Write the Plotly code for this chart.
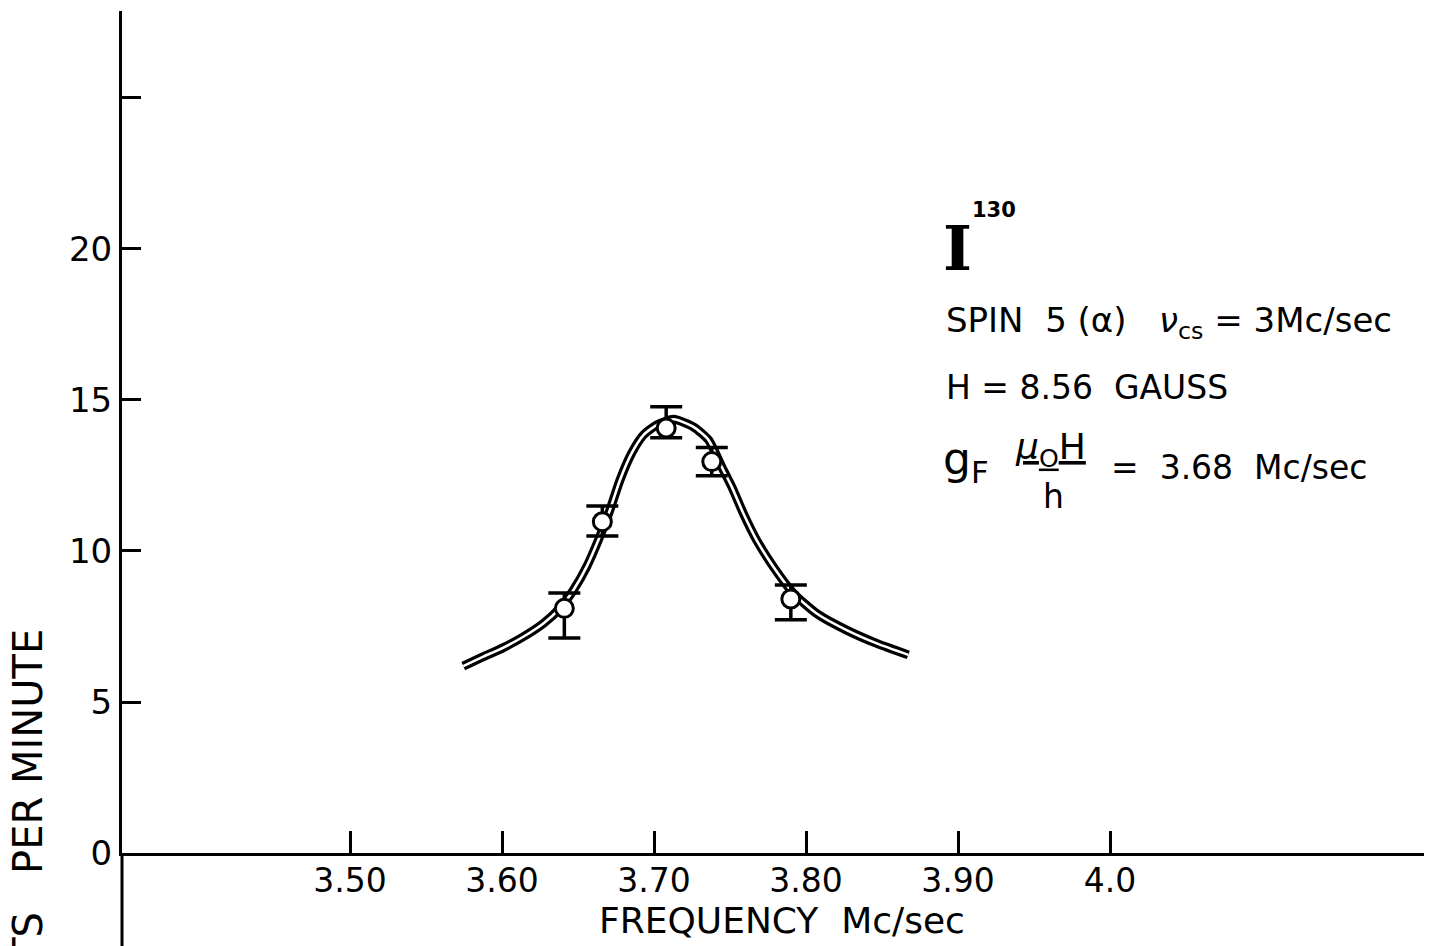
import plotly.graph_objects as go

# Measured data points (frequency in Mc/sec, counts per minute)
freq = [3.641, 3.666, 3.708, 3.738, 3.790]
counts = [8.10, 10.97, 14.07, 12.96, 8.41]
err_hi = [0.51, 0.52, 0.71, 0.47, 0.46]
err_lo = [0.98, 0.47, 0.32, 0.47, 0.69]

# Resonance curve drawn through the points
fit_freq = [3.5745, 3.5877, 3.6009, 3.614, 3.6272, 3.638, 3.647, 3.6557, 3.6634,
            3.671, 3.6776, 3.6853, 3.693, 3.7017, 3.713, 3.7259, 3.7358, 3.7445,
            3.7511, 3.7588, 3.7675, 3.7785, 3.7917, 3.807, 3.8267, 3.8465, 3.8673]
fit_counts = [6.19, 6.50, 6.80, 7.16, 7.60, 8.10, 8.71, 9.48, 10.36,
              11.36, 12.35, 13.24, 13.84, 14.17, 14.36, 14.11, 13.68, 12.79,
              12.13, 11.24, 10.36, 9.48, 8.60, 7.93, 7.38, 6.94, 6.56]

# Axis ticks
x_tickvals = [3.50, 3.60, 3.70, 3.80, 3.90, 4.00]
x_ticktext = ["3.50", "3.60", "3.70", "3.80", "3.90", "4.0"]
y_tickvals = [0, 5, 10, 15, 20, 25]
y_ticktext = ["0", "5", "10", "15", "20", ""]

FONT = "DejaVu Sans"

fig = go.Figure()

# double-stroke curve: thick black with a thin white core
fig.add_trace(go.Scatter(x=fit_freq, y=fit_counts, mode="lines",
                         line=dict(color="black", width=9, shape="spline", smoothing=0.6),
                         hoverinfo="skip", showlegend=False))
fig.add_trace(go.Scatter(x=fit_freq, y=fit_counts, mode="lines",
                         line=dict(color="white", width=2.6, shape="spline", smoothing=0.6),
                         hoverinfo="skip", showlegend=False))

# data points with error bars
fig.add_trace(go.Scatter(
    x=freq, y=counts, mode="markers",
    marker=dict(symbol="circle", size=18, color="white", line=dict(color="black", width=3)),
    error_y=dict(type="data", symmetric=False, array=err_hi, arrayminus=err_lo,
                 color="black", thickness=3.5, width=16),
    showlegend=False))

fig.update_xaxes(range=[3.35, 4.2118], showgrid=False, zeroline=False,
                 showline=True, linecolor="black", linewidth=3,
                 ticks="inside", ticklen=22, tickwidth=3, tickcolor="black",
                 tickvals=x_tickvals, ticktext=x_ticktext, ticklabelstandoff=-4,
                 tickfont=dict(family=FONT, size=33, color="black"))
fig.update_yaxes(range=[0, 27.88], showgrid=False, zeroline=False,
                 showline=True, linecolor="black", linewidth=3,
                 ticks="inside", ticklen=19, tickwidth=3, tickcolor="black",
                 tickvals=y_tickvals, ticktext=y_ticktext,
                 tickfont=dict(family=FONT, size=34, color="black"))

# y-axis line extends below the x axis
fig.add_shape(type="line", xref="paper", yref="paper", x0=0, x1=0, y0=0, y1=-0.12,
              line=dict(color="black", width=3))

ann = []
# axis titles
ann.append(dict(text="FREQUENCY  Mc/sec", xref="x", yref="paper", x=3.784, y=-0.0796,
                xanchor="center", yanchor="middle", showarrow=False,
                font=dict(family=FONT, size=36, color="black")))
ann.append(dict(text="COUNTS   PER MINUTE", xref="paper", yref="paper", x=-0.0721, y=0.2685,
                xanchor="center", yanchor="top", textangle=-90, showarrow=False,
                font=dict(family=FONT, size=40, color="black")))

# isotope label
ann.append(dict(text="<b>I</b>", xref="x", yref="y", x=3.889, y=20.0,
                xanchor="left", yanchor="middle", showarrow=False,
                font=dict(family="DejaVu Serif", size=62, color="black")))
ann.append(dict(text="<b>130</b>", xref="x", yref="y", x=3.908, y=21.3,
                xanchor="left", yanchor="middle", showarrow=False,
                font=dict(family=FONT, size=21, color="black")))

ann.append(dict(text="SPIN  5 (α)   <i>ν</i><sub>cs</sub> = 3Mc/sec", xref="x", yref="y",
                x=3.891, y=17.58, xanchor="left", yanchor="middle", showarrow=False,
                font=dict(family=FONT, size=34, color="black")))
ann.append(dict(text="H = 8.56  GAUSS", xref="x", yref="y",
                x=3.891, y=15.40, xanchor="left", yanchor="middle", showarrow=False,
                font=dict(family=FONT, size=33, color="black")))
ann.append(dict(text="g<sub>F</sub>", xref="x", yref="y",
                x=3.889, y=12.95, xanchor="left", yanchor="middle", showarrow=False,
                font=dict(family=FONT, size=44, color="black")))
ann.append(dict(text="<u><i>μ</i><sub>O</sub>H</u>", xref="x", yref="y",
                x=3.9605, y=13.35, xanchor="center", yanchor="middle", showarrow=False,
                font=dict(family=FONT, size=36, color="black")))
ann.append(dict(text="h", xref="x", yref="y",
                x=3.963, y=11.8, xanchor="center", yanchor="middle", showarrow=False,
                font=dict(family=FONT, size=33, color="black")))
ann.append(dict(text="=  3.68  Mc/sec", xref="x", yref="y",
                x=3.999, y=12.75, xanchor="left", yanchor="middle", showarrow=False,
                font=dict(family=FONT, size=33, color="black")))

# The page body adds an 8px offset, so the figure is sized to fill the rest of the window
fig.update_layout(width=1424, height=938, margin=dict(l=114, r=0, t=3, b=93),
                  paper_bgcolor="white", plot_bgcolor="white",
                  annotations=ann, showlegend=False)

fig.write_html("out.html")
